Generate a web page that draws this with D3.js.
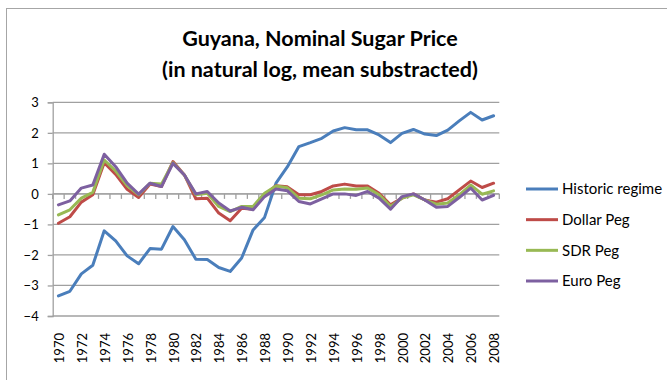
<!DOCTYPE html>
<html>
<head>
<meta charset="utf-8">
<script src="https://cdn.jsdelivr.net/npm/d3@7"></script>
<style>
  html, body { margin: 0; padding: 0; background: #fff; }
  svg { display: block; }
  text { font-family: Lato, "Open Sans", "Liberation Sans", sans-serif; fill: #000; }
</style>
</head>
<body>
<svg id="chart" width="667" height="380"></svg>
<script>
// Years on the category axis
const years = d3.range(1970, 2009);

// Series: log sugar price, mean subtracted
const historic = [-3.34, -3.19, -2.62, -2.34, -1.21, -1.54, -2.03, -2.29, -1.79, -1.81,
                  -1.07, -1.50, -2.14, -2.15, -2.41, -2.54, -2.10, -1.18, -0.77, 0.35,
                   0.89, 1.55, 1.68, 1.82, 2.06, 2.17, 2.10, 2.10, 1.93, 1.68,
                   1.98, 2.11, 1.96, 1.91, 2.09, 2.39, 2.67, 2.42, 2.56];
const dollarPeg = [-0.96, -0.75, -0.27, -0.03, 1.02, 0.64, 0.15, -0.12, 0.32, 0.24,
                    1.06, 0.62, -0.16, -0.14, -0.63, -0.88, -0.47, -0.50, -0.03, 0.27,
                    0.23, -0.03, -0.03, 0.08, 0.26, 0.32, 0.26, 0.26, 0.02, -0.36,
                   -0.14, 0.00, -0.20, -0.27, -0.16, 0.13, 0.42, 0.21, 0.35];
const sdrPeg = [-0.69, -0.52, -0.14, 0.05, 1.11, 0.75, 0.27, -0.03, 0.35, 0.32,
                 1.02, 0.62, -0.03, 0.02, -0.41, -0.58, -0.41, -0.41, 0.02, 0.26,
                 0.20, -0.14, -0.16, -0.03, 0.13, 0.16, 0.15, 0.19, -0.03, -0.41,
                -0.14, -0.03, -0.20, -0.34, -0.30, -0.03, 0.29, -0.01, 0.10];
const euroPeg = [-0.36, -0.23, 0.19, 0.29, 1.30, 0.89, 0.35, -0.01, 0.35, 0.24,
                  1.00, 0.62, 0.00, 0.08, -0.30, -0.56, -0.44, -0.52, -0.09, 0.16,
                  0.10, -0.25, -0.33, -0.16, 0.00, 0.00, -0.05, 0.08, -0.14, -0.50,
                 -0.09, 0.00, -0.20, -0.44, -0.41, -0.12, 0.19, -0.20, -0.05];

const seriesNames = ["Historic regime", "Dollar Peg", "SDR Peg", "Euro Peg"];
const seriesValues = [historic, dollarPeg, sdrPeg, euroPeg];
const seriesColors = ["#4a7ebb", "#be4b48", "#98b954", "#7d60a0"];

const yTicks = [3, 2, 1, 0, -1, -2, -3, -4];
const xTickLabels = years.filter(y => (y - 1970) % 2 === 0);

const svg = d3.select("#chart");

// Chart-area border
svg.append("rect")
  .attr("x", 6.5).attr("y", 8.5)
  .attr("width", 700).attr("height", 400)
  .attr("fill", "none").attr("stroke", "#a6a6a6").attr("stroke-width", 1);

const plot = { left: 52.7, right: 499.3, top: 102.3, bottom: 316 };

const x = d3.scaleBand()
  .domain(years)
  .range([plot.left, plot.right])
  .paddingInner(0).paddingOuter(0);

const y = d3.scaleLinear()
  .domain([-4, 3])
  .range([plot.bottom, plot.top]);

const cx = d => x(d) + x.bandwidth() / 2;

// Horizontal gridlines
svg.append("g")
  .selectAll("line")
  .data(yTicks)
  .join("line")
  .attr("x1", plot.left).attr("x2", plot.right)
  .attr("y1", d => y(d)).attr("y2", d => y(d))
  .attr("stroke", "#a0a0a0").attr("stroke-width", 1.3);

// Vertical axis
const yAxis = d3.axisLeft(y).tickValues(yTicks).tickSize(5).tickPadding(9).tickFormat(d3.format("d"));
const gy = svg.append("g").attr("transform", `translate(${plot.left},0)`).call(yAxis);
gy.select(".domain").attr("stroke", "#a0a0a0").attr("stroke-width", 1.3);
gy.selectAll(".tick line").attr("stroke", "#a0a0a0").attr("stroke-width", 1.3);
gy.selectAll(".tick text")
  .attr("font-size", 13)
  .style("font-family", "Lato, 'Open Sans', sans-serif");

// Category axis on the zero line, ticks at category boundaries
const boundaries = years.map(d => x(d)).concat([plot.right]);
svg.append("g")
  .selectAll("line")
  .data(boundaries)
  .join("line")
  .attr("x1", d => d).attr("x2", d => d)
  .attr("y1", y(0)).attr("y2", y(0) + 5)
  .attr("stroke", "#a0a0a0").attr("stroke-width", 1.3);
svg.append("line")
  .attr("x1", plot.left).attr("x2", plot.right)
  .attr("y1", y(0)).attr("y2", y(0))
  .attr("stroke", "#a0a0a0").attr("stroke-width", 1.3);

// Year labels below the plot, rotated
svg.append("g")
  .selectAll("text")
  .data(xTickLabels)
  .join("text")
  .attr("transform", d => `translate(${cx(d) + 1},${plot.bottom + 17}) rotate(-90)`)
  .attr("text-anchor", "end")
  .attr("dy", "0.35em")
  .attr("font-size", 13)
  .text(d => d);

// Series lines
const line = d3.line()
  .x((d, i) => cx(years[i]))
  .y(d => y(d));

svg.append("g")
  .selectAll("path")
  .data(seriesValues)
  .join("path")
  .attr("d", d => line(d))
  .attr("fill", "none")
  .attr("stroke", (d, i) => seriesColors[i])
  .attr("stroke-width", 3)
  .attr("stroke-linejoin", "round")
  .attr("stroke-linecap", "round");

// Legend
const legend = svg.append("g");
const legendY = d3.scalePoint().domain(seriesNames).range([189, 281]);
const items = legend.selectAll("g")
  .data(seriesNames)
  .join("g")
  .attr("transform", d => `translate(526,${legendY(d)})`);
items.append("line")
  .attr("x1", 0).attr("x2", 32)
  .attr("y1", 0).attr("y2", 0)
  .attr("stroke", (d, i) => seriesColors[i])
  .attr("stroke-width", 3);
items.append("text")
  .attr("x", 36).attr("dy", "0.35em")
  .attr("font-size", 15)
  .text(d => d);

// Title
const title = svg.append("text")
  .attr("x", 320)
  .attr("text-anchor", "middle")
  .attr("font-size", 21.5)
  .attr("font-weight", "bold");
title.append("tspan").attr("x", 320).attr("y", 46).text("Guyana, Nominal Sugar Price");
title.append("tspan").attr("x", 320).attr("y", 77).text("(in natural log, mean substracted)");
</script>
</body>
</html>
